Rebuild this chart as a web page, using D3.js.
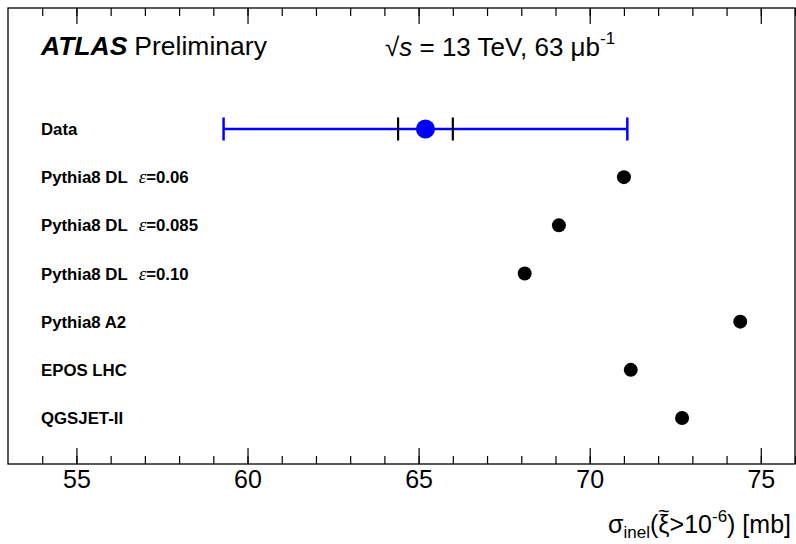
<!DOCTYPE html>
<html>
<head>
<meta charset="utf-8">
<script src="https://cdn.jsdelivr.net/npm/d3@7"></script>
<style>
  html, body { margin: 0; padding: 0; background: #fff; }
  svg { display: block; }
  text { font-family: "Liberation Sans", Arial, Helvetica, sans-serif; }
</style>
</head>
<body>
<svg id="chart" width="796" height="544"></svg>
<script>
// ---- data ----
const categories = ["Data", "Pythia8 DL", "Pythia8 DL", "Pythia8 DL", "Pythia8 A2", "EPOS LHC", "QGSJET-II"];
const epsilonLabels = [null, "0.06", "0.085", "0.10", null, null, null];
const values = [65.2, 71.0, 69.1, 68.1, 74.4, 71.2, 72.7];
const dataStatRange = [64.4, 66.0];
const dataTotalRange = [59.3, 71.1];
const majorTicks = [55, 60, 65, 70, 75];
const minorTicks = d3.range(54, 77, 1);

// ---- layout ----
const svg = d3.select("#chart");
const frame = { left: 8, right: 795, top: 8, bottom: 464 };

const x = d3.scaleLinear().domain([53, 76]).range([frame.left, frame.right]);
const y = d3.scalePoint().domain(d3.range(categories.length)).range([129, 418]);

// frame
svg.append("rect")
  .attr("x", frame.left).attr("y", frame.top)
  .attr("width", frame.right - frame.left).attr("height", frame.bottom - frame.top)
  .attr("fill", "none").attr("stroke", "#000").attr("stroke-width", 1.3);

// axes (ticks inward)
const gMinorB = svg.append("g").attr("transform", `translate(0,${frame.bottom})`)
  .call(d3.axisBottom(x).tickValues(minorTicks).tickSizeInner(-8).tickSizeOuter(0).tickFormat(""));
const gMajorB = svg.append("g").attr("transform", `translate(0,${frame.bottom})`)
  .call(d3.axisBottom(x).tickValues(majorTicks).tickSizeInner(-16).tickSizeOuter(0).tickPadding(6).tickFormat(d3.format("d")));
const gMinorT = svg.append("g").attr("transform", `translate(0,${frame.top})`)
  .call(d3.axisTop(x).tickValues(minorTicks).tickSizeInner(-8).tickSizeOuter(0).tickFormat(""));
const gMajorT = svg.append("g").attr("transform", `translate(0,${frame.top})`)
  .call(d3.axisTop(x).tickValues(majorTicks).tickSizeInner(-16).tickSizeOuter(0).tickFormat(""));

[gMinorB, gMajorB, gMinorT, gMajorT].forEach(g => {
  g.select(".domain").remove();
  g.selectAll(".tick line").attr("stroke", "#000").attr("stroke-width", 1.2);
});
gMajorB.selectAll(".tick text")
  .attr("font-size", 25).attr("fill", "#000")
  .attr("font-family", "'Liberation Sans', Arial, sans-serif");

// header
const hdr = svg.append("text").attr("x", 41).attr("y", 55).attr("font-size", 26.5).attr("fill", "#000");
hdr.append("tspan").attr("font-weight", "bold").attr("font-style", "italic").text("ATLAS");
hdr.append("tspan").attr("dx", 7).text("Preliminary");

const en = svg.append("text").attr("x", 385).attr("y", 56).attr("font-size", 26).attr("fill", "#000");
en.append("tspan").text("\u221A");
en.append("tspan").attr("font-style", "italic").text("s");
en.append("tspan").text(" = 13 TeV, 63 \u03BCb");
en.append("tspan").attr("font-size", 17).attr("dy", -12).text("-1");

// row labels
const lab = svg.append("g").selectAll("text").data(categories).join("text")
  .attr("x", 41).attr("y", (d, i) => y(i) + 6)
  .attr("font-size", 16.8).attr("font-weight", "bold").attr("fill", "#000");
lab.append("tspan").text(d => d);
lab.each(function (d, i) {
  if (epsilonLabels[i] === null) return;
  const t = d3.select(this);
  t.append("tspan").attr("dx", 11)
    .attr("font-family", "'Liberation Serif', 'Times New Roman', serif")
    .attr("font-style", "italic").attr("font-weight", "normal").attr("font-size", 19)
    .text("\u03B5");
  t.append("tspan").text("=" + epsilonLabels[i]);
});

// data error bars
const yd = y(0);
svg.append("line")
  .attr("x1", x(dataTotalRange[0])).attr("x2", x(dataTotalRange[1]))
  .attr("y1", yd).attr("y2", yd)
  .attr("stroke", "#0000ff").attr("stroke-width", 2.5);
svg.append("g").selectAll("line").data(dataTotalRange).join("line")
  .attr("x1", d => x(d)).attr("x2", d => x(d))
  .attr("y1", yd - 11.5).attr("y2", yd + 11.5)
  .attr("stroke", "#0000ff").attr("stroke-width", 2.5);
svg.append("g").selectAll("line").data(dataStatRange).join("line")
  .attr("x1", d => x(d)).attr("x2", d => x(d))
  .attr("y1", yd - 11.5).attr("y2", yd + 11.5)
  .attr("stroke", "#000").attr("stroke-width", 2.2);

// points
svg.append("g").selectAll("circle").data(values).join("circle")
  .attr("cx", d => x(d)).attr("cy", (d, i) => y(i))
  .attr("r", (d, i) => i === 0 ? 9.5 : 7)
  .attr("fill", (d, i) => i === 0 ? "#0000ff" : "#000");

// x-axis title
const xt = svg.append("text").attr("x", 791).attr("y", 533)
  .attr("text-anchor", "end").attr("font-size", 25).attr("fill", "#000");
xt.append("tspan").text("\u03C3");
xt.append("tspan").attr("font-size", 17).attr("dy", 5).text("inel");
xt.append("tspan").attr("dy", -5).text("(");
const xi = xt.append("tspan").text("\u03BE");
xt.append("tspan").text(">10");
xt.append("tspan").attr("font-size", 17).attr("dy", -11).text("-6");
xt.append("tspan").attr("dy", 11).text(") [mb]");
// tilde over xi, as part of the same text element
const bb = xi.node().getBBox();
xt.append("tspan")
  .attr("x", bb.x + bb.width / 2).attr("y", bb.y + 8)
  .attr("text-anchor", "middle").attr("font-size", 20)
  .text("~");
</script>
</body>
</html>
